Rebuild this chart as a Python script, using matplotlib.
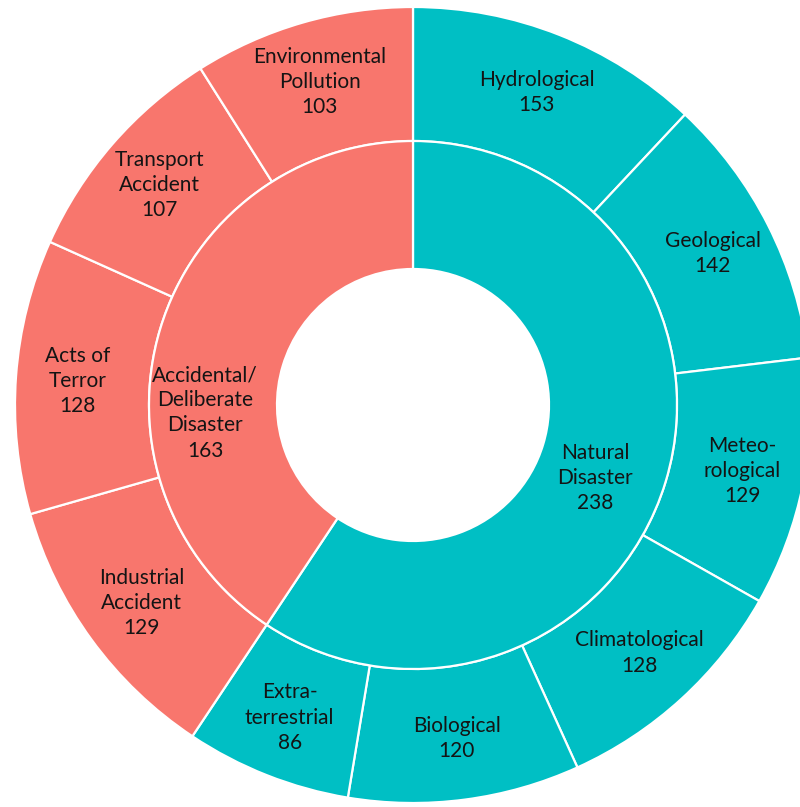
import numpy as np
import matplotlib.pyplot as plt

# inner ring
groups = ["Natural\nDisaster", "Accidental/\nDeliberate\nDisaster"]
group_values = [238, 163]
group_colors = ["#00BFC4", "#F8766D"]

# outer ring, listed clockwise from 12 o'clock
natural_types = ["Hydrological", "Geological", "Meteo-\nrological", "Climatological",
                 "Biological", "Extra-\nterrestrial"]
natural_values = [153, 142, 129, 128, 120, 86]

accidental_types = ["Industrial\nAccident", "Acts of\nTerror", "Transport\nAccident",
                    "Environmental\nPollution"]
accidental_values = [129, 128, 107, 103]

plt.rcParams['font.family'] = ['Lato', 'DejaVu Sans']

fig = plt.figure(figsize=(8, 8.07), dpi=100)
ax = fig.add_axes([0, 0, 1, 1])

R_OUT = 0.995
R_MID = 0.66
R_HOLE = 0.34
edge = dict(edgecolor="white", linewidth=1.6)

# children share their parent's angle, split by their own counts
outer_labels = natural_types + accidental_types
outer_sizes = []
outer_colors = []
for vals, parent, col in [(natural_values, group_values[0], group_colors[0]),
                          (accidental_values, group_values[1], group_colors[1])]:
    tot = sum(vals)
    outer_sizes += [v / tot * parent for v in vals]
    outer_colors += [col] * len(vals)
outer_counts = natural_values + accidental_values

w_out, _ = ax.pie(outer_sizes, radius=R_OUT, colors=outer_colors, startangle=90,
                  counterclock=False, wedgeprops=dict(width=R_OUT - R_MID, **edge))
w_in, _ = ax.pie(group_values, radius=R_MID, colors=group_colors, startangle=90,
                 counterclock=False, wedgeprops=dict(width=R_MID - R_HOLE, **edge))

txt = dict(ha="center", va="center", fontsize=15, color="#141414", linespacing=1.32)

for w, lab, n in zip(w_out, outer_labels, outer_counts):
    mid = np.deg2rad((w.theta1 + w.theta2) / 2)
    r = 0.84
    ax.text(r * np.cos(mid), r * np.sin(mid), f"{lab}\n{n}", **txt)

# inner labels nudged along the ring
inner_shift = [-5, 19]
inner_r = [0.49, 0.52]
for w, lab, n, s, r in zip(w_in, groups, group_values, inner_shift, inner_r):
    mid = np.deg2rad((w.theta1 + w.theta2) / 2 + s)
    ax.text(r * np.cos(mid), r * np.sin(mid), f"{lab}\n{n}", **txt)

ax.set_xlim(-1.0325, 0.9675)
ax.set_ylim(-1.005, 1.0125)
ax.set_aspect("equal")
ax.axis("off")

fig.savefig("out.png", dpi=100, facecolor="white")
